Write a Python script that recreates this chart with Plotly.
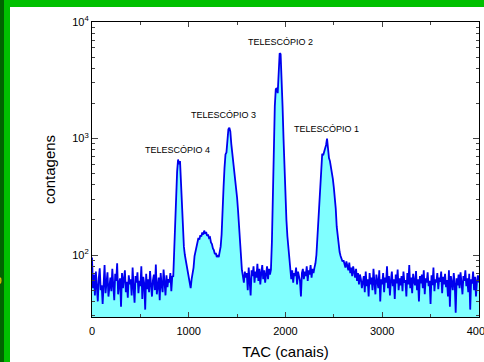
import numpy as np
import plotly.graph_objects as go

# channel axis (TAC channels, step 10)
channels = list(range(0, 4001, 10))

counts = [
    95, 52, 68, 45, 72, 58, 40, 63, 77, 50, 55, 38, 66, 82, 47, 60, 71, 44, 58, 64,
    49, 76, 55, 41, 69, 60, 85, 46, 57, 63, 36, 70, 52, 61, 74, 48, 59, 43, 67, 56,
    62, 45, 78, 53, 39, 66, 58, 71, 47, 60, 54, 80, 42, 65, 57, 34, 69, 51, 62, 48,
    73, 56, 44, 61, 68, 50, 83, 46, 59, 64, 41, 70, 55, 48, 75, 60, 45, 67, 53, 62,
    58, 70, 49, 66, 65, 110, 200, 330, 520, 660, 600, 640, 420, 250, 160, 118, 100, 90, 82, 72,
    65, 56, 52, 62, 70, 78, 98, 108, 124, 128, 140, 136, 148, 144, 156, 150, 162, 152, 158, 146,
    150, 140, 142, 128, 124, 114, 110, 102, 104, 96, 100, 96, 104, 118, 150, 210, 380, 560, 730, 760,
    1000, 1200, 1240, 1150, 900, 760, 660, 560, 470, 380, 310, 240, 170, 120, 92, 74, 66, 58, 72, 64,
    70, 50, 78, 62, 45, 74, 66, 80, 58, 72, 64, 84, 60, 76, 56, 70, 82, 62, 74, 58,
    66, 80, 62, 76, 68, 75, 130, 380, 950, 1900, 2650, 2700, 2450, 3300, 5400, 5300, 3500, 1900, 1000, 520,
    300, 200, 145, 118, 95, 80, 62, 74, 58, 70, 66, 78, 56, 72, 64, 60, 44, 70, 76, 62,
    72, 66, 80, 60, 74, 68, 82, 64, 76, 70, 78, 85, 100, 140, 210, 310, 420, 560, 740, 720,
    780, 800, 880, 1000, 780, 680, 640, 580, 530, 450, 380, 320, 250, 175, 140, 118, 106, 98, 92, 88,
    90, 84, 78, 88, 80, 74, 86, 70, 78, 66, 80, 72, 64, 76, 60, 70, 56, 68, 62, 52,
    58, 66, 48, 72, 54, 62, 44, 70, 56, 64, 50, 76, 58, 46, 68, 60, 52, 74, 40, 62,
    56, 70, 48, 64, 58, 80, 52, 66, 45, 60, 72, 54, 62, 42, 68, 57, 75, 50, 63, 55,
    66, 49, 72, 58, 61, 44, 70, 56, 82, 52, 64, 47, 69, 59, 55, 73, 50, 62, 40, 66,
    57, 68, 52, 74, 46, 63, 58, 71, 54, 60, 38, 67, 55, 78, 49, 62, 58, 70, 51, 64,
    59, 72, 47, 65, 56, 69, 53, 61, 44, 74, 36, 66, 58, 50, 70, 57, 32, 63, 55, 68,
    52, 71, 58, 46, 66, 60, 74, 54, 63, 48, 69, 34, 62, 57, 72, 50, 65, 44, 60, 67,
    58,
]

peak_labels = ["TELESCÓPIO 4", "TELESCÓPIO 3", "TELESCÓPIO 2", "TELESCÓPIO 1"]
label_x = [879, 1359, 1944, 2423]
label_y = [800, 1607, 6780, 1202]

x_ticks = [0, 1000, 2000, 3000, 4000]
x_minor = [500, 1500, 2500, 3500]
y_ticks = [100, 1000, 10000]
y_ticktext = ["10<sup>2</sup>", "10<sup>3</sup>", "10<sup>4</sup>"]

FONT = "Liberation Sans, Arial, sans-serif"

fig = go.Figure()
fig.add_trace(go.Scatter(x=[channels[0], channels[-1]], y=[1, 1], mode="lines",
                         line=dict(width=0), hoverinfo="skip", showlegend=False))
fig.add_trace(go.Scatter(x=channels, y=counts, mode="lines", fill="tonexty",
                         fillcolor="#80FFFF", line=dict(color="#0000EE", width=1.8),
                         showlegend=False))

annotations = []
for t, xv, yv in zip(peak_labels, label_x, label_y):
    annotations.append(dict(x=xv, y=np.log10(yv), xref="x", yref="y", text=t,
                            showarrow=False, font=dict(family=FONT, size=9, color="#000000")))

def px_x(p):
    return (p - 92) / 387

def px_y(p):
    return (317 - p) / 295

annotations.append(dict(x=px_x(4), y=px_y(289), xref="paper", yref="paper", text="o",
                        xanchor="right", showarrow=False,
                        font=dict(family=FONT, size=12, color="#E8D000")))

shapes = [
    dict(type="rect", xref="paper", yref="paper", x0=px_x(-2), x1=px_x(486), y0=px_y(7), y1=px_y(-3),
         fillcolor="#00C000", line=dict(width=0), layer="below"),
    dict(type="rect", xref="paper", yref="paper", x0=px_x(-2), x1=px_x(10), y0=px_y(364), y1=px_y(-3),
         fillcolor="#00C000", line=dict(width=0), layer="below"),
    dict(type="rect", xref="paper", yref="paper", x0=px_x(-2), x1=px_x(4), y0=px_y(364), y1=px_y(-3),
         fillcolor="#006400", line=dict(width=0), layer="below"),
]

fig.update_layout(
    width=484, height=362,
    margin=dict(l=92, r=5, t=22, b=45, autoexpand=False),
    paper_bgcolor="white", plot_bgcolor="white",
    annotations=annotations, shapes=shapes,
    font=dict(family=FONT, color="#000000"),
    xaxis=dict(range=[0, 4001], tickvals=x_ticks, ticks="inside", ticklen=5, tickwidth=1,
               showline=True, linecolor="black", linewidth=1.2, mirror="ticks",
               showgrid=False, zeroline=False, tickfont=dict(size=11), automargin=False,
               ticklabeloverflow="allow", ticklabelstandoff=4,
               minor=dict(tickvals=x_minor, ticks="inside", ticklen=3),
               title=dict(text="TAC (canais)", font=dict(size=15), standoff=10)),
    yaxis=dict(type="log", range=[1.468, 4], tickvals=y_ticks, ticktext=y_ticktext,
               ticks="inside", ticklen=6, tickwidth=1,
               showline=True, linecolor="black", linewidth=1.2, mirror="ticks",
               showgrid=False, zeroline=False, tickfont=dict(size=11), automargin=False,
               minor=dict(dtick="D1", ticks="inside", ticklen=3),
               title=dict(text="contagens", font=dict(size=15), standoff=12)),
)

fig.write_html("out.html")
